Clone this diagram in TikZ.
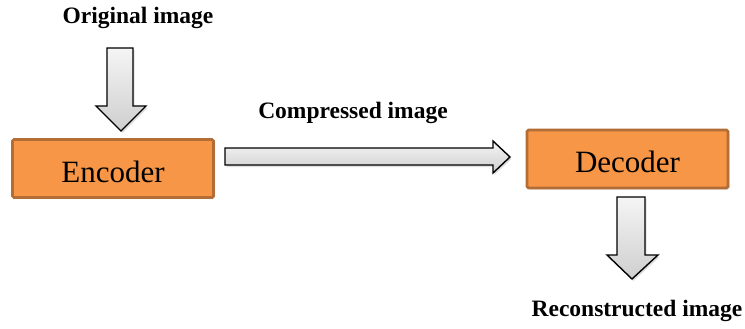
\documentclass[tikz,border=0pt]{standalone}
\usepackage{fontspec}
\setmainfont{Liberation Serif}
\usetikzlibrary{shadows}
\definecolor{boxfill}{HTML}{F79646}
\definecolor{boxline}{HTML}{B36D36}
\tikzset{
  coder/.style={draw=boxline, line width=2.8pt, fill=boxfill, rounded corners=1.5pt,
    minimum width=201pt, minimum height=58pt, inner sep=0pt,
    text height=27pt, text depth=0pt,
    font=\fontsize{31}{33}\selectfont,
    drop shadow={shadow xshift=1.5pt, shadow yshift=-1.5pt, opacity=0.25}},
  caption/.style={font=\bfseries\fontsize{23.5}{25}\selectfont, inner sep=0pt},
  blockarrow/.style={draw=black, line width=1.4pt, line join=miter,
    top color=gray!8, bottom color=gray!38,
    drop shadow={shadow xshift=1.5pt, shadow yshift=-2pt, opacity=0.25}}
}
\begin{document}
\begin{tikzpicture}[x=1pt, y=-1pt]
  \useasboundingbox (0,0) rectangle (745,329);

  % processing blocks
  \node[coder] (enc) at (113,168.5) {Encoder};
  \node[coder] (dec) at (627.5,159) {Decoder};

  % captions
  \node[caption] (orig) at (138,18) {Original image};
  \node[caption] (comp) at (353,113) {Compressed image};
  \node[caption] (rec)  at (637,311) {Reconstructed image};

  % input arrow into the encoder
  \path[blockarrow] (107,48) -- (133,48) -- (133,106) -- (146,106) -- (121,131)
     -- (96,106) -- (107,106) -- cycle;

  % compressed stream from encoder to decoder
  \path[blockarrow] (225,148) -- (493,148) -- (493,141) -- (510,157) -- (493,173)
     -- (493,165) -- (225,165) -- cycle;

  % output arrow out of the decoder
  \path[blockarrow] (617,197) -- (645,197) -- (645,255) -- (658,255) -- (632,279)
     -- (607,255) -- (617,255) -- cycle;
\end{tikzpicture}
\end{document}
